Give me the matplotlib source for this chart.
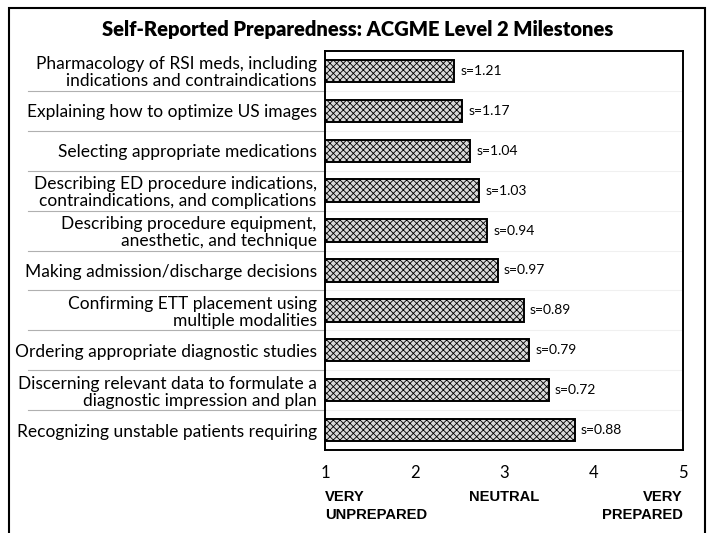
import matplotlib
matplotlib.use("Agg")
import matplotlib.pyplot as plt
from matplotlib.patches import Rectangle

# Дані з графіка (зверху вниз)
labels = [
    "Pharmacology of RSI meds, including\nindications and contraindications",
    "Explaining how to optimize US images",
    "Selecting appropriate medications",
    "Describing ED procedure indications,\ncontraindications, and complications",
    "Describing procedure equipment,\nanesthetic, and technique",
    "Making admission/discharge decisions",
    "Confirming ETT placement using\nmultiple modalities",
    "Ordering appropriate diagnostic studies",
    "Discerning relevant data to formulate a\ndiagnostic impression and plan",
    "Recognizing unstable patients requiring",
]
means = [2.44, 2.53, 2.62, 2.72, 2.81, 2.93, 3.22, 3.28, 3.50, 3.79]
sds = [1.21, 1.17, 1.04, 1.03, 0.94, 0.97, 0.89, 0.79, 0.72, 0.88]
ticks = [1, 2, 3, 4, 5]
scale_names = ["VERY\nUNPREPARED", "NEUTRAL", "VERY\nPREPARED"]

plt.rcParams["font.family"] = ["Lato", "DejaVu Sans"]
plt.rcParams["hatch.linewidth"] = 0.6
plt.rcParams["hatch.color"] = "#333333"

fig = plt.figure(figsize=(7.12, 5.33), dpi=100)
ax = fig.add_axes([0.4565, 0.1557, 0.5028, 0.7486])

y = list(range(len(labels)))
ax.barh(y, [m - 1 for m in means], left=1, height=0.56, color="#d9d9d9",
        edgecolor="black", linewidth=1.4, hatch="xxxxx", zorder=3)

for i, (m, s) in enumerate(zip(means, sds)):
    ax.text(m + 0.07, i, f"s={s:.2f}", va="center", ha="left", fontsize=10)

# Межі рядків
for i in range(len(labels) - 1):
    ax.axhline(i + 0.5, color="#f0f0f0", linewidth=0.8, zorder=1)
    ax.plot([-0.83, 0], [i + 0.5, i + 0.5], color="#b0b0b0", linewidth=0.8,
            transform=ax.get_yaxis_transform(), clip_on=False)

ax.set_xlim(1, 5)
ax.set_ylim(len(labels) - 0.5, -0.5)
ax.set_yticks(y)
ax.set_yticklabels(labels, fontsize=12.5, linespacing=1.08)
ax.set_xticks(ticks)
ax.set_xticklabels([str(t) for t in ticks], fontsize=12)
ax.tick_params(axis="both", length=0)
ax.tick_params(axis="y", pad=6)
ax.tick_params(axis="x", pad=11)
for sp in ax.spines.values():
    sp.set_linewidth(1.4)

bold = dict(fontsize=10.6, fontweight="bold", family="Liberation Sans", va="top",
            linespacing=1.4, transform=ax.get_xaxis_transform())
ax.text(1, -0.1, scale_names[0], ha="left", **bold)
ax.text(3, -0.1, scale_names[1], ha="center", **bold)
ax.text(5, -0.1, scale_names[2], ha="right", multialignment="right", **bold)

fig.text(0.502, 0.945, "Self-Reported Preparedness: ACGME Level 2 Milestones",
         ha="center", va="center", fontsize=14.5, fontweight="heavy")

fig.add_artist(Rectangle((0.012, -0.05), 0.978, 1.035, transform=fig.transFigure,
                         fill=False, edgecolor="black", linewidth=1.5))

fig.savefig("out.png", dpi=100)
